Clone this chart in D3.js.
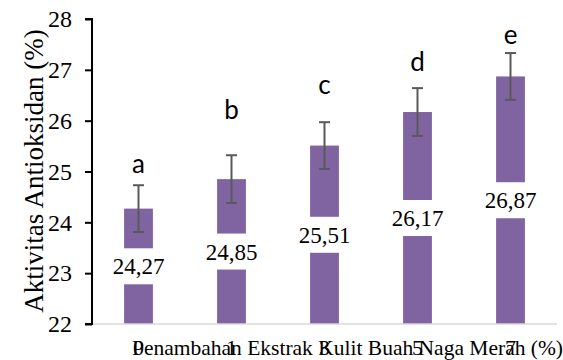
<!DOCTYPE html>
<html>
<head>
<meta charset="utf-8">
<script src="https://cdn.jsdelivr.net/npm/d3@7"></script>
</head>
<body style="margin:0">
<svg id="viz" width="563" height="360"></svg>
<script>
// ---- data ----
const categories = ["0", "1", "3", "5", "7"];
const values = [24.27, 24.85, 25.51, 26.17, 26.87];
const errors = [0.46, 0.47, 0.46, 0.47, 0.46];
const valueLabels = ["24,27", "24,85", "25,51", "26,17", "26,87"];
const letters = ["a", "b", "c", "d", "e"];
const letterLevels = [24.97, 26.04, 26.53, 26.98, 27.51];
const yTicks = [22, 23, 24, 25, 26, 27, 28];
const xTitle = "Penambahan Ekstrak Kulit Buah Naga Merah (%)";
const yTitle = "Aktivitas Antioksidan (%)";

(function () {
// ---- layout ----
const svg = d3.select("#viz");
const mLeft = 92, mRight = 557, mTop = 19, mBottom = 324;
const SERIF = '"Liberation Serif"';
const SANS = '"Lato"';
const barColor = "#8064A2";

function txt(sel, fam, size) {
  return sel.style("font-family", fam).style("font-size", size + "px").attr("fill", "#000");
}

const x = d3.scaleBand().domain(categories).range([mLeft, mRight]).paddingInner(0.69).paddingOuter(0.345);
const y = d3.scaleLinear().domain([22, 28]).range([mBottom, mTop]);

// bars
svg.append("g").selectAll("rect").data(values).join("rect")
  .attr("x", (d, i) => x(categories[i]))
  .attr("y", d => y(d))
  .attr("width", x.bandwidth())
  .attr("height", d => y(22) - y(d))
  .attr("fill", barColor);

// x axis line (light gray)
svg.append("line")
  .attr("x1", mLeft).attr("x2", mRight)
  .attr("y1", y(22)).attr("y2", y(22))
  .attr("stroke", "#d9d9d9").attr("stroke-width", 1.5);

// y axis
const yAxis = d3.axisLeft(y).tickValues(yTicks).tickSize(7).tickPadding(13).tickFormat(d3.format("d"));
const gy = svg.append("g").attr("transform", `translate(${mLeft},0)`).call(yAxis);
gy.attr("font-family", null).attr("font-size", null);
gy.select(".domain").attr("stroke", "#000").attr("stroke-width", 2).attr("d", `M-7,${mTop}H0V${mBottom}H-7`);
gy.selectAll(".tick line").attr("stroke", "#000").attr("stroke-width", 2);
txt(gy.selectAll(".tick text"), SERIF, 24);

// value labels (white boxes centred in bars)
const lab = svg.append("g");
values.forEach((v, i) => {
  const cx = x(categories[i]) + x.bandwidth() / 2;
  const cy = (y(v) + y(22)) / 2;
  lab.append("rect")
    .attr("x", cx - 32).attr("y", cy - 18)
    .attr("width", 64).attr("height", 36)
    .attr("fill", "#fff");
  txt(lab.append("text")
    .attr("x", cx).attr("y", cy)
    .attr("dy", "0.35em")
    .attr("text-anchor", "middle"), SERIF, 23)
    .text(valueLabels[i]);
});

// error bars
const eg = svg.append("g").attr("stroke", "#595959").attr("stroke-width", 2);
values.forEach((v, i) => {
  const cx = x(categories[i]) + x.bandwidth() / 2;
  const y1 = y(v + errors[i]), y2 = y(v - errors[i]);
  eg.append("line").attr("x1", cx).attr("x2", cx).attr("y1", y1).attr("y2", y2);
  eg.append("line").attr("x1", cx - 5.5).attr("x2", cx + 5.5).attr("y1", y1).attr("y2", y1);
  eg.append("line").attr("x1", cx - 5.5).attr("x2", cx + 5.5).attr("y1", y2).attr("y2", y2);
});

// significance letters
txt(svg.append("g").selectAll("text").data(letters).join("text")
  .attr("x", (d, i) => x(categories[i]) + x.bandwidth() / 2)
  .attr("y", (d, i) => y(letterLevels[i]))
  .attr("text-anchor", "middle"), SANS, 26)
  .text(d => d);

// x tick labels
txt(svg.append("g").selectAll("text").data(categories).join("text")
  .attr("x", d => x(d) + x.bandwidth() / 2)
  .attr("y", 355)
  .attr("text-anchor", "middle"), SERIF, 22)
  .text(d => d);

// x title
txt(svg.append("text")
  .attr("x", 347.5).attr("y", 355)
  .attr("text-anchor", "middle"), SERIF, 21.5)
  .text(xTitle);

// y title
txt(svg.append("text")
  .attr("transform", `translate(43,171) rotate(-90)`)
  .attr("text-anchor", "middle"), SERIF, 27)
  .text(yTitle);
})();
</script>
</body>
</html>
